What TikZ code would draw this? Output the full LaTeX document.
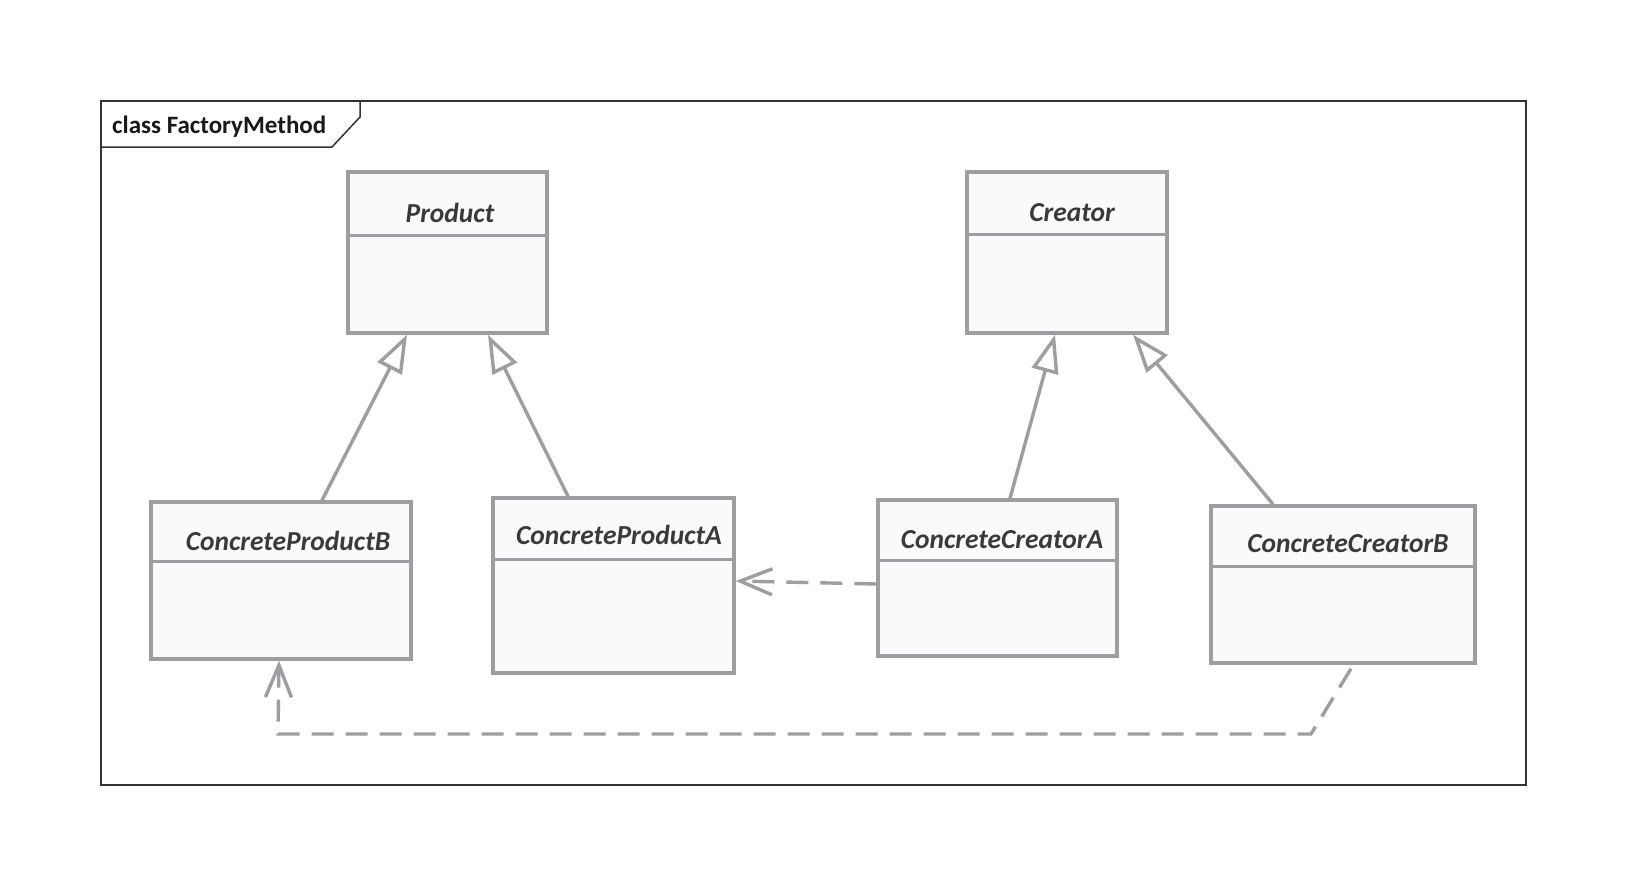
\documentclass[tikz,border=0pt]{standalone}
\usepackage{fontspec}
\setmainfont{Carlito}
\usetikzlibrary{arrows.meta}
\definecolor{ln}{HTML}{9D9DA2}
\definecolor{tx}{HTML}{3A3A3A}
\definecolor{bx}{HTML}{FAFAFA}
\tikzset{
  cls/.style={draw=ln, line width=3.4pt, fill=bx, inner sep=0pt},
  divline/.style={draw=ln, line width=3.4pt},
  ttl/.style={font=\fontsize{27.5}{31}\selectfont\bfseries\itshape, text=tx, inner sep=0pt},
  inh/.style={draw=ln, line width=3.4pt, -{Triangle[length=38pt,width=27pt,fill=white,line width=3.4pt]}},
  dep/.style={draw=ln, line width=3.4pt, dash pattern=on 22pt off 12pt, -{Straight Barb[length=32pt,width=26pt,line width=3.4pt]}},
}
\begin{document}
\begin{tikzpicture}[x=1pt,y=-1pt]
\useasboundingbox (0,0) rectangle (1625,886);
\fill[white] (0,0) rectangle (1625,886);
% frame
\draw[draw=black!80, line width=1.5pt, fill=white] (101,101) rectangle (1526,785);
\draw[draw=black!80, line width=1.5pt] (101,147) -- (332,147) -- (360,117) -- (360,101);
\node[anchor=base west, font=\fontsize{25}{29}\selectfont\bfseries, text=black!90, inner sep=0pt] (title) at (112,133) {class FactoryMethod};

% classes
\node[cls, minimum width=199pt, minimum height=161pt] (prod) at (447.5,252.5) {};
\draw[divline] ([yshift=-65pt]prod.north west) -- ([yshift=-65pt]prod.north east);
\node[ttl] (prodt) at (450,213) {Product};

\node[cls, minimum width=200pt, minimum height=161pt] (cre) at (1067,252.5) {};
\draw[divline] ([yshift=-64pt]cre.north west) -- ([yshift=-64pt]cre.north east);
\node[ttl] (cret) at (1072,213) {Creator};

\node[cls, minimum width=260pt, minimum height=157pt] (cpb) at (281,580.5) {};
\draw[divline] ([yshift=-61pt]cpb.north west) -- ([yshift=-61pt]cpb.north east);
\node[ttl] (cpbt) at (288,541) {ConcreteProductB};

\node[cls, minimum width=241pt, minimum height=175pt] (cpa) at (613.5,585.5) {};
\draw[divline] ([yshift=-63pt]cpa.north west) -- ([yshift=-63pt]cpa.north east);
\node[ttl] (cpat) at (619,535) {ConcreteProductA};

\node[cls, minimum width=239pt, minimum height=156pt] (cca) at (997.5,578) {};
\draw[divline] ([yshift=-62pt]cca.north west) -- ([yshift=-62pt]cca.north east);
\node[ttl] (ccat) at (1002,540) {ConcreteCreatorA};

\node[cls, minimum width=264pt, minimum height=157pt] (ccb) at (1343,584.5) {};
\draw[divline] ([yshift=-62pt]ccb.north west) -- ([yshift=-62pt]ccb.north east);
\node[ttl] (ccbt) at (1348,544) {ConcreteCreatorB};

% generalizations
\draw[inh] ([xshift=41pt]cpb.north) -- ([xshift=-40.5pt]prod.south);
\draw[inh] ([xshift=-45.5pt]cpa.north) -- ([xshift=40.5pt]prod.south);
\draw[inh] ([xshift=12.5pt]cca.north) -- ([xshift=-12pt]cre.south);
\draw[inh] ([xshift=-70pt]ccb.north) -- ([xshift=66pt]cre.south);

% dependencies
\draw[dep] ([yshift=-6pt]cca.west) -- ([yshift=4.5pt]cpa.east);
\coordinate (b1) at (1311,734);
\coordinate (b2) at (278,734);
\draw[dep] ([xshift=8pt,yshift=-4pt]ccb.south) -- (b1) -- (b2) -- ([xshift=-2pt]cpb.south);
\end{tikzpicture}
\end{document}
